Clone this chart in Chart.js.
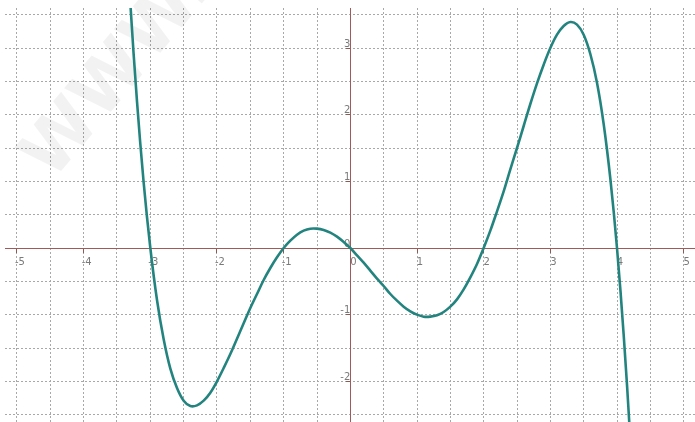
<!DOCTYPE html>
<html>
<head>
<meta charset="utf-8">
<script src="https://cdn.jsdelivr.net/npm/chart.js@4"></script>
<style>
  html, body { margin: 0; padding: 0; background: #ffffff; overflow: hidden; }
  #wrap { width: 695px; height: 422px; overflow: hidden; }
  #plot { display: block; }
</style>
</head>
<body>
<div id="wrap"><canvas id="plot" width="695" height="430"></canvas></div>
<script>
// Sampled points of the plotted curve
const xValues = [-3.4, -3.3, -3.2, -3.1, -3.0, -2.9, -2.8, -2.7, -2.6, -2.5, -2.4, -2.3, -2.2, -2.1, -2.0,
  -1.9, -1.8, -1.7, -1.6, -1.5, -1.4, -1.3, -1.2, -1.1, -1.0, -0.9, -0.8, -0.7, -0.6, -0.5, -0.4, -0.3,
  -0.2, -0.1, 0.0, 0.1, 0.2, 0.3, 0.4, 0.5, 0.6, 0.7, 0.8, 0.9, 1.0, 1.1, 1.2, 1.3, 1.4, 1.5, 1.6, 1.7,
  1.8, 1.9, 2.0, 2.1, 2.2, 2.3, 2.4, 2.5, 2.6, 2.7, 2.8, 2.9, 3.0, 3.1, 3.2, 3.3, 3.4, 3.5, 3.6, 3.7,
  3.8, 3.9, 4.0, 4.1, 4.2, 4.3];
const yValues = [5.43, 3.67, 2.20, 0.98, 0.00, -0.78, -1.37, -1.81, -2.10, -2.29, -2.37, -2.36, -2.29, -2.17, -2.00,
  -1.80, -1.59, -1.36, -1.13, -0.90, -0.69, -0.48, -0.30, -0.14, 0.00, 0.11, 0.20, 0.26, 0.29, 0.29, 0.27, 0.23,
  0.17, 0.09, 0.00, -0.11, -0.22, -0.34, -0.46, -0.57, -0.69, -0.79, -0.88, -0.95, -1.00, -1.03, -1.03, -1.01, -0.96, -0.88, -0.77, -0.62,
  -0.44, -0.24, 0.00, 0.26, 0.55, 0.85, 1.18, 1.50, 1.83, 2.16, 2.47, 2.75, 3.00, 3.20, 3.33, 3.39, 3.35, 3.20, 2.91, 2.48,
  1.86, 1.04, 0.00, -1.30, -2.88, -4.78];

// Axis extents and grid step
const xRange = [-5.18, 5.17];
const yRange = [-2.61, 3.6];
const gridStep = 0.5;

const points = xValues.map((x, i) => ({ x: x, y: yValues[i] }));

const isWhole = v => Math.abs(v - Math.round(v)) < 1e-9;
const axisColor = '#9e5b57';
const gridColor = '#a8a8a8';

const watermark = {
  id: 'watermark',
  beforeDatasetsDraw(chart) {
    const ctx = chart.ctx;
    ctx.save();
    ctx.translate(52, 182);
    ctx.rotate(-50 * Math.PI / 180);
    ctx.font = 'bold 70px "DejaVu Sans", sans-serif';
    ctx.fillStyle = 'rgba(0,0,0,0.05)';
    ctx.textBaseline = 'alphabetic';
    ctx.fillText('WWW.', 0, 0);
    ctx.restore();
  }
};

const tickFont = { family: '"DejaVu Sans", sans-serif', size: 10 };

const gridOpts = {
  color: ctx => (ctx.tick && Math.abs(ctx.tick.value) < 1e-9) ? 'rgba(0,0,0,0)' : gridColor,
  lineWidth: 1,
  tickLength: 4,
  tickColor: ctx => (ctx.tick && isWhole(ctx.tick.value)) ? '#8a5a55' : 'rgba(0,0,0,0)'
};

new Chart(document.getElementById('plot'), {
  type: 'scatter',
  data: {
    datasets: [{
      data: points,
      showLine: true,
      borderColor: '#23847f',
      borderWidth: 2.6,
      pointRadius: 0,
      tension: 0.35,
      fill: false
    }]
  },
  plugins: [watermark],
  options: {
    responsive: false,
    animation: false,
    layout: { padding: { left: 5, top: 8, right: 0, bottom: 0 } },
    plugins: { legend: { display: false }, tooltip: { enabled: false } },
    scales: {
      x: {
        type: 'linear',
        min: xRange[0],
        max: xRange[1],
        position: { y: 0 },
        grid: gridOpts,
        border: { color: axisColor, width: 1, dash: [2, 2] },
        ticks: {
          stepSize: gridStep,
          includeBounds: false,
          autoSkip: false,
          maxRotation: 0,
          padding: 4,
          labelOffset: 3,
          color: '#7a7a7a',
          font: tickFont,
          callback: v => isWhole(v) ? String(Math.round(v)) : ''
        }
      },
      y: {
        type: 'linear',
        min: yRange[0],
        max: yRange[1],
        position: { x: 0 },
        grid: gridOpts,
        border: { color: axisColor, width: 1, dash: [2, 2] },
        ticks: {
          stepSize: gridStep,
          includeBounds: false,
          autoSkip: false,
          padding: 2,
          labelOffset: -4,
          color: '#7a7a7a',
          font: tickFont,
          callback: v => isWhole(v) ? String(Math.round(v)) : ''
        }
      }
    }
  }
});
</script>
</body>
</html>
